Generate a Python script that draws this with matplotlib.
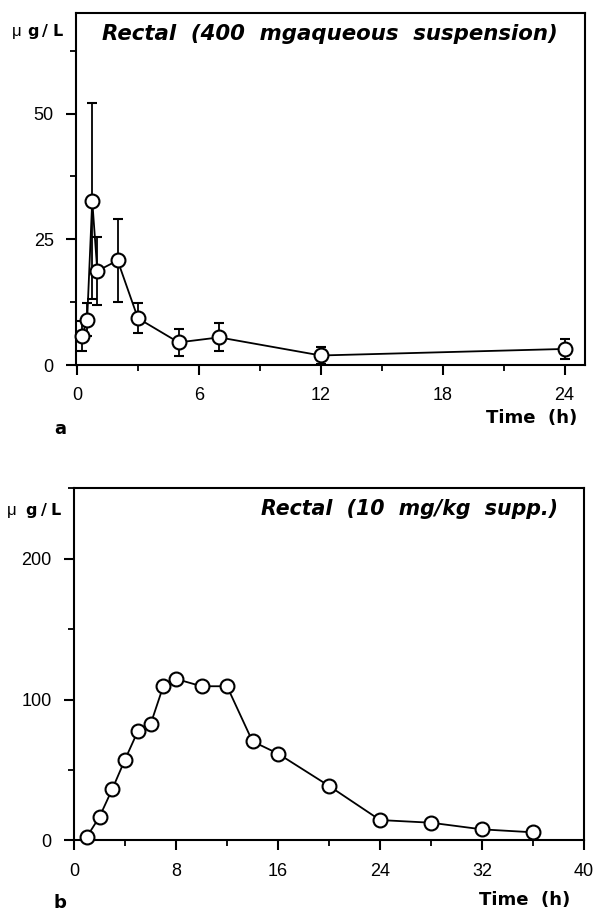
import matplotlib.pyplot as plt
from matplotlib.ticker import MultipleLocator

plt.rcParams['font.family'] = ['Liberation Sans', 'DejaVu Sans']

# Panel a: rectal 400 mg aqueous suspension (mean +/- error)
time_a = [0.25, 0.5, 0.75, 1.0, 2.0, 3.0, 5.0, 7.0, 12.0, 24.0]
conc_a = [5.8, 9.0, 32.7, 18.7, 20.8, 9.3, 4.5, 5.5, 1.9, 3.2]
err_a = [3.0, 3.3, 19.5, 6.7, 8.3, 3.0, 2.7, 2.8, 1.7, 2.0]

# Panel b: rectal 10 mg/kg suppository
time_b = [1, 2, 3, 4, 5, 6, 7, 8, 10, 12, 14, 16, 20, 24, 28, 32, 36]
conc_b = [2.5, 16.8, 36.4, 57.4, 77.4, 82.3, 109.4, 114.6, 109.4, 109.4,
          70.3, 61.6, 38.7, 14.5, 12.6, 7.9, 5.8]

W, H = 595, 911
fig = plt.figure(figsize=(W / 100, H / 100), dpi=100)

ax1 = fig.add_axes([0.1277, 0.5993, 0.8553, 0.3864])
ax2 = fig.add_axes([0.1244, 0.0774, 0.8571, 0.3869])

marker_kw = dict(marker='o', markersize=10, markerfacecolor='white',
                 markeredgecolor='black', markeredgewidth=1.5,
                 color='black', linewidth=1.3)

eb = ax1.errorbar(time_a, conc_a, yerr=err_a, capsize=3.5, elinewidth=1.3,
                  capthick=1.5, ecolor='black', zorder=3, **marker_kw)
data_line, caps, bars = eb.lines
data_line.set_clip_on(False)
for art in list(caps) + list(bars):
    art.set_clip_on(False)
ax2.plot(time_b, conc_b, zorder=3, clip_on=False, **marker_kw)

ax1.set_xlim(-0.05, 25)
ax1.set_ylim(0, 70)
ax1.xaxis.set_major_locator(MultipleLocator(6))
ax1.xaxis.set_minor_locator(MultipleLocator(3))
ax1.yaxis.set_major_locator(MultipleLocator(25))
ax1.yaxis.set_minor_locator(MultipleLocator(12.5))

ax2.set_xlim(0, 40)
ax2.set_ylim(0, 250)
ax2.xaxis.set_major_locator(MultipleLocator(8))
ax2.xaxis.set_minor_locator(MultipleLocator(4))
ax2.yaxis.set_major_locator(MultipleLocator(100))
ax2.yaxis.set_minor_locator(MultipleLocator(50))

for ax in (ax1, ax2):
    for s in ax.spines.values():
        s.set_linewidth(1.5)
    ax.tick_params(which='major', direction='out', length=7, width=1.5,
                   labelsize=13, pad=9)
    ax.tick_params(which='minor', direction='out', length=4, width=1.3)

bold = dict(family='DejaVu Sans', fontweight='bold')


def unit_label(xs, y_px):
    # "µg/L" drawn with the wide letter spacing of the original
    y = 1 - y_px / H
    fig.text(xs[0] / W, y, 'μ', fontsize=12, ha='left', va='baseline')
    for ch, x in zip(['g', '/', 'L'], xs[1:]):
        fig.text(x / W, y, ch, fontsize=11.5, ha='left', va='baseline', **bold)


unit_label([12, 27, 42, 53], 36)
unit_label([7, 25, 41, 51], 515)

# panel titles
ax1.text(0.051, 0.923, 'Rectal  (400  mgaqueous  suspension)', transform=ax1.transAxes,
         fontsize=15.3, fontstyle='italic', ha='left', va='baseline', **bold)
ax2.text(0.949, 0.923, 'Rectal  (10  mg/kg  supp.)', transform=ax2.transAxes,
         fontsize=14.8, fontstyle='italic', ha='right', va='baseline', **bold)

fig.text(0.970, 0.5357, 'Time  (h)', fontsize=13, ha='right', va='baseline', **bold)
fig.text(0.958, 0.0066, 'Time  (h)', fontsize=13, ha='right', va='baseline', **bold)

fig.text(0.092, 0.529, 'a', fontsize=13, ha='left', va='center', **bold)
fig.text(0.090, 0.009, 'b', fontsize=13, ha='left', va='center', **bold)

fig.savefig('out.png', dpi=100)
